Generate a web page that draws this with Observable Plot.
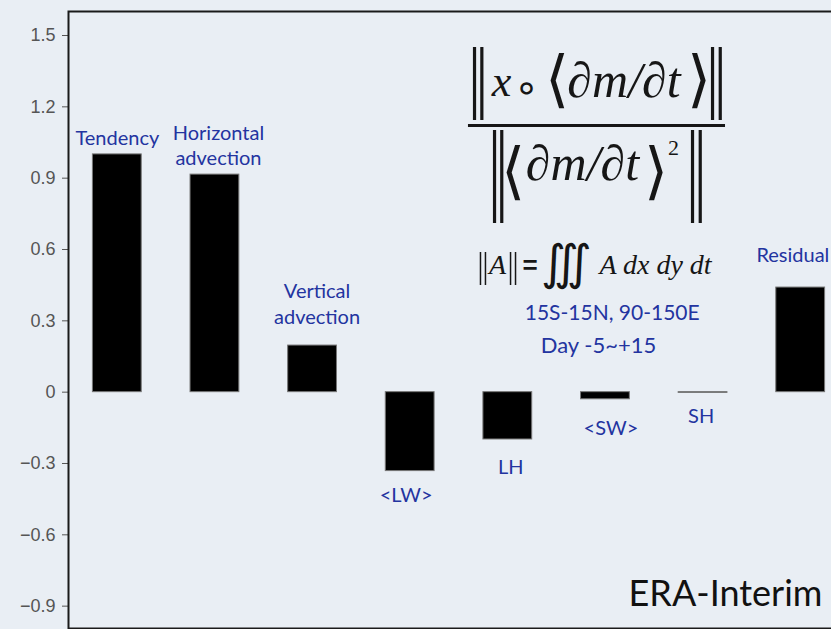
<!DOCTYPE html>
<html>
<head>
<meta charset="utf-8">
<script src="https://cdn.jsdelivr.net/npm/d3@7"></script>
<script src="https://cdn.jsdelivr.net/npm/@observablehq/plot@0.6"></script>
<style>
  html, body { margin: 0; padding: 0; background: #e9eef4; overflow: hidden; }
  #chart { width: 831px; height: 629px; }
</style>
</head>
<body>
<div id="chart"></div>
<script>
// ---- data ----
const categories = ["Tendency", "Horizontal advection", "Vertical advection", "<LW>", "LH", "<SW>", "SH", "Residual"];
const labels = ["Tendency", "Horizontal\nadvection", "Vertical\nadvection", "<LW>", "LH", "<SW>", "SH", "Residual"];
const values = [1.0, 0.915, 0.196, -0.332, -0.199, -0.03, -0.003, 0.44];
const yTicks = [-0.9, -0.6, -0.3, 0, 0.3, 0.6, 0.9, 1.2, 1.5];

const table = categories.map((c, i) => ({category: c, label: labels[i], index: i, value: values[i]}));

// ---- annotation placement (data units) ----
const labelPos = {
  "Tendency": [0, 1.073], "Horizontal advection": [0.036, 1.043], "Vertical advection": [0.046, 0.375],
  "<LW>": [-0.041, -0.428], "LH": [0.03, -0.311], "<SW>": [0.056, -0.147], "SH": [-0.02, -0.096], "Residual": [-0.08, 0.581]
};

const blue = "#2334a0";
const ink = "#161616";
const serif = "Liberation Serif, Times New Roman, serif";
const bracketFont = "DejaVu Sans, sans-serif";

const txt = (s, x, y, o = {}) => Plot.text([s], {x: () => x, y: () => y, text: d => d, frameAnchor: "middle", lineAnchor: "middle", ...o});

const chart = Plot.plot({
  width: 831,
  height: 629,
  marginLeft: 68,
  marginRight: -18,
  marginTop: 11,
  marginBottom: 1,
  style: {background: "#e9eef4", fontFamily: "Liberation Sans, Arial, sans-serif", fontSize: "18px", color: "#555", overflow: "hidden"},
  x: {domain: [-0.5, 7.5], range: [68, 849], axis: null},
  y: {
    domain: [-0.994, 1.601],
    ticks: yTicks,
    tickSize: 6,
    tickPadding: 7,
    label: null,
    tickFormat: d => d === 0 ? "0" : d.toFixed(1).replace("-", "\u2212")
  },
  marks: [
    Plot.frame({stroke: "#1a1a1a", strokeWidth: 2}),
    Plot.rect(table, {x1: d => d.index - 0.25, x2: d => d.index + 0.25, y1: d => 0, y2: d => d.value, fill: "#000", stroke: "#777", strokeWidth: 1}),
    Plot.text(table, {
      x: d => d.index + labelPos[d.category][0],
      y: d => labelPos[d.category][1],
      text: "label", fill: blue, fontFamily: "Lato, sans-serif", fontSize: 20, lineHeight: 1.3, lineAnchor: "middle"
    }),
    // fraction formula
    Plot.ruleY([1.1215], {x1: () => 3.597, x2: () => 6.230, stroke: ink, strokeWidth: 3}),
    Plot.ruleX([3.659, 3.734, 6.097, 6.176], {x: d => d, y1: () => 1.4495, y2: () => 1.1426, stroke: ink, strokeWidth: 3.2}),
    Plot.ruleX([3.864, 3.938, 5.892, 5.971], {x: d => d, y1: () => 1.1005, y2: () => 0.7094, stroke: ink, strokeWidth: 3.2}),
    txt("x", 3.935, 1.304, {fontFamily: serif, fontStyle: "italic", fontSize: 44, fill: ink}),
    txt("\u2218", 4.191, 1.279, {fontFamily: "DejaVu Sans", fontSize: 40, fill: ink}),
    txt("\u27E8", 4.499, 1.311, {fontFamily: bracketFont, fontWeight: 200, fontSize: 62, fill: ink}),
    txt("\u2202m/\u2202t", 5.190, 1.307, {fontFamily: serif, fontStyle: "italic", fontSize: 50, fill: ink}),
    txt("\u27E9", 5.958, 1.311, {fontFamily: bracketFont, fontWeight: 200, fontSize: 62, fill: ink}),
    txt("\u27E8", 4.058, 0.924, {fontFamily: bracketFont, fontWeight: 200, fontSize: 62, fill: ink}),
    txt("\u2202m/\u2202t", 4.765, 0.958, {fontFamily: serif, fontStyle: "italic", fontSize: 50, fill: ink}),
    txt("\u27E9", 5.523, 0.924, {fontFamily: bracketFont, fontWeight: 200, fontSize: 62, fill: ink}),
    txt("2", 5.697, 1.025, {fontFamily: serif, fontSize: 22, fill: ink}),
    // norm definition
    Plot.ruleX([3.720, 3.771, 4.028, 4.079], {x: d => d, y1: () => 0.5875, y2: () => 0.4487, stroke: ink, strokeWidth: 1.5}),
    txt("A", 3.894, 0.534, {fontFamily: serif, fontStyle: "italic", fontSize: 28, fill: ink}),
    txt("=", 4.227, 0.534, {fontFamily: "Liberation Sans, sans-serif", fontWeight: "bold", fontSize: 26, fill: ink}),
    txt("\u222D", 4.601, 0.541, {fontFamily: serif, fontSize: 48, fill: ink}),
    txt("A dx dy dt", 5.513, 0.534, {fontFamily: serif, fontStyle: "italic", fontSize: 28, fill: ink}),
    txt("15S-15N, 90-150E", 5.069, 0.330, {fontFamily: "Lato, sans-serif", fontSize: 21, fill: blue}),
    txt("Day -5~+15", 4.929, 0.195, {fontFamily: "Lato, sans-serif", fontSize: 22, fill: blue}),
    txt("ERA-Interim", 7.223, -0.851, {fontFamily: "Lato, sans-serif", fontSize: 36, fill: "#111", textAnchor: "end"})
  ]
});

document.getElementById("chart").appendChild(chart);
</script>
</body>
</html>
